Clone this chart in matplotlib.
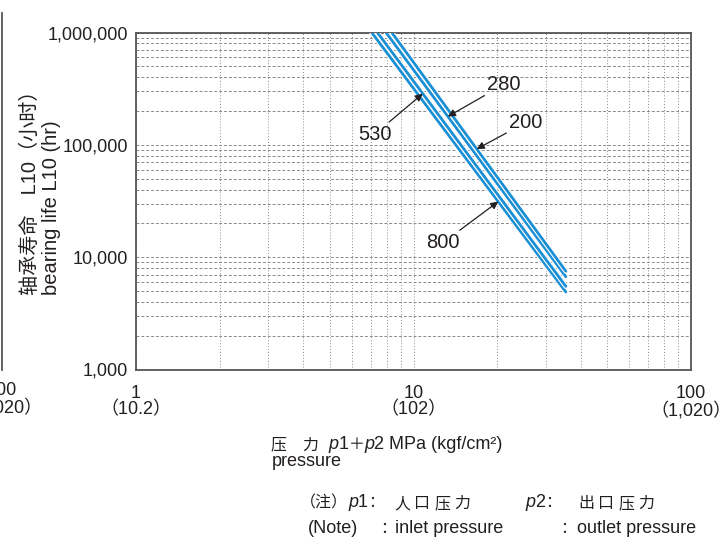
import numpy as np
import matplotlib
matplotlib.use("Agg")
import matplotlib.pyplot as plt
import matplotlib.patheffects as pe
from matplotlib.lines import Line2D
from matplotlib.ticker import NullFormatter
from matplotlib.offsetbox import TextArea, HPacker, AnchoredOffsetbox

plt.rcParams["font.family"] = ["Liberation Sans", "Noto Sans CJK SC"]

INK = "#231f20"
BLUE = "#1a8fd6"
GRID = "#8a8a8a"

# L10 life lines, one per speed (pressure in MPa, life in hr)
speeds = ["800", "530", "280", "200"]
p_top = [7.07, 7.41, 7.96, 8.35]
p_end = [35.4, 35.4, 35.4, 35.4]
life_top = [1e6, 1e6, 1e6, 1e6]
life_end = [4900, 5500, 6700, 7500]

# callouts: where the arrow hits the line, where the number sits
arrow_p = [20.2, 10.8, 13.3, 16.9]
label_p = [12.8, 7.24, 21.2, 25.4]
label_life = [1.35e4, 1.24e5, 3.45e5, 1.58e5]

x_ticks = [1, 10, 100]
x_ticklabels = ["1\n（10.2）", "10\n（102）", "100\n（1,020）"]
y_ticks = [1e3, 1e4, 1e5, 1e6]
y_ticklabels = ["1,000", "10,000", "100,000", "1,000,000"]

W, H = 720, 540


def fx(x):
    return x / W


def fy(y):
    return 1 - y / H


def row(fig, x, y, parts, sep=0):
    boxes = []
    for s, kw in parts:
        props = dict(color=INK)
        props.update(kw)
        boxes.append(TextArea(s, textprops=props))
    packer = HPacker(children=boxes, align="baseline", pad=0, sep=sep)
    box = AnchoredOffsetbox(loc="lower left", child=packer, pad=0, borderpad=0,
                            frameon=False, bbox_to_anchor=(fx(x), fy(y)),
                            bbox_transform=fig.transFigure)
    fig.add_artist(box)


fig = plt.figure(figsize=(7.2, 5.4), dpi=100)
ax = fig.add_axes([fx(136), fy(369.5), fx(691) - fx(136), fy(32.5) - fy(369.5)])
ax.set_xscale("log")
ax.set_yscale("log")
ax.set_xlim(1, 100)
ax.set_ylim(1e3, 1e6)

ax.set_xticks(x_ticks, x_ticklabels)
ax.set_yticks(y_ticks, y_ticklabels)
ax.xaxis.set_minor_formatter(NullFormatter())
ax.yaxis.set_minor_formatter(NullFormatter())
ax.tick_params(which="both", length=0, labelsize=13, labelcolor=INK)
ax.tick_params(axis="x", pad=11)
ax.tick_params(axis="y", pad=6)
for lbl in ax.get_xticklabels():
    lbl.set_linespacing(0.95)

ax.grid(True, which="both", axis="y", color=GRID, lw=0.7, ls=(0, (3, 2)))
ax.grid(True, which="both", axis="x", color=GRID, lw=0.7, ls=(0, (1, 2)))
ax.set_axisbelow(True)
for sp in ax.spines.values():
    sp.set_color("#555555")
    sp.set_linewidth(1.3)

for name, pt, pn, lt, ln in zip(speeds, p_top, p_end, life_top, life_end):
    ax.plot([pt, pn], [lt, ln], color=BLUE, lw=2.0, solid_capstyle="round", zorder=3,
            path_effects=[pe.Stroke(linewidth=3.6, foreground="white", capstyle="round"),
                          pe.Normal()])

for name, pa, tp, tl, pt, pn, lt, ln in zip(speeds, arrow_p, label_p, label_life,
                                            p_top, p_end, life_top, life_end):
    life_at = 10 ** np.interp(np.log10(pa), np.log10([pt, pn]), np.log10([lt, ln]))
    ax.annotate(name, xy=(pa, life_at), xytext=(tp, tl), ha="center", va="center",
                fontsize=14.5, color=INK, zorder=5,
                arrowprops=dict(arrowstyle="-|>", color=INK, lw=0.9, mutation_scale=11,
                                shrinkA=0, shrinkB=0))

# y axis title, two rotated lines
fig.text(fx(30), fy(295), "轴承寿命　L10（小时）", rotation=90, rotation_mode="anchor",
         ha="left", va="center", fontsize=14.5, color=INK)
fig.text(fx(52), fy(295), "bearing life L10 (hr)", rotation=90, rotation_mode="anchor",
         ha="left", va="center", fontsize=14.5, color=INK)

# x axis title
it = dict(fontsize=13, style="italic")
rm = dict(fontsize=13)
cjk = dict(fontsize=11.5)
row(fig, 271, 453, [("压　力 ", cjk), (" ", rm), ("p", it), ("1", rm), ("＋", cjk),
                    ("p", it), ("2 MPa (kgf/cm²)", rm)])
fig.text(fx(272), fy(466), "pressure", fontsize=13, color=INK, va="baseline")

# note lines
row(fig, 300, 511, [("（注）", cjk), ("p", it), ("1", rm), ("：", cjk)])
row(fig, 394, 511, [(c, cjk) for c in "人口压力"], sep=3)
row(fig, 525, 511, [("p", it), ("2", rm), ("：", cjk)])
row(fig, 578, 511, [(c, cjk) for c in "出口压力"], sep=3)
fig.text(fx(308), fy(533), "(Note)", fontsize=13, color=INK, va="baseline")
fig.text(fx(380), fy(533), "：", fontsize=11.5, color=INK, va="baseline")
fig.text(fx(395), fy(533), "inlet pressure", fontsize=13, color=INK, va="baseline")
fig.text(fx(560), fy(533), "：", fontsize=11.5, color=INK, va="baseline")
fig.text(fx(577), fy(533), "outlet pressure", fontsize=13, color=INK, va="baseline")

# edge of the neighbouring chart, cut off by the crop
fig.add_artist(Line2D([fx(1.5), fx(1.5)], [fy(13), fy(370)], color="#555555", lw=1.3))
fig.text(fx(1.5), fy(382), "100\n（1,020）", ha="center", va="top", fontsize=13,
         color=INK, linespacing=0.95)

fig.savefig("out.png", dpi=100)
